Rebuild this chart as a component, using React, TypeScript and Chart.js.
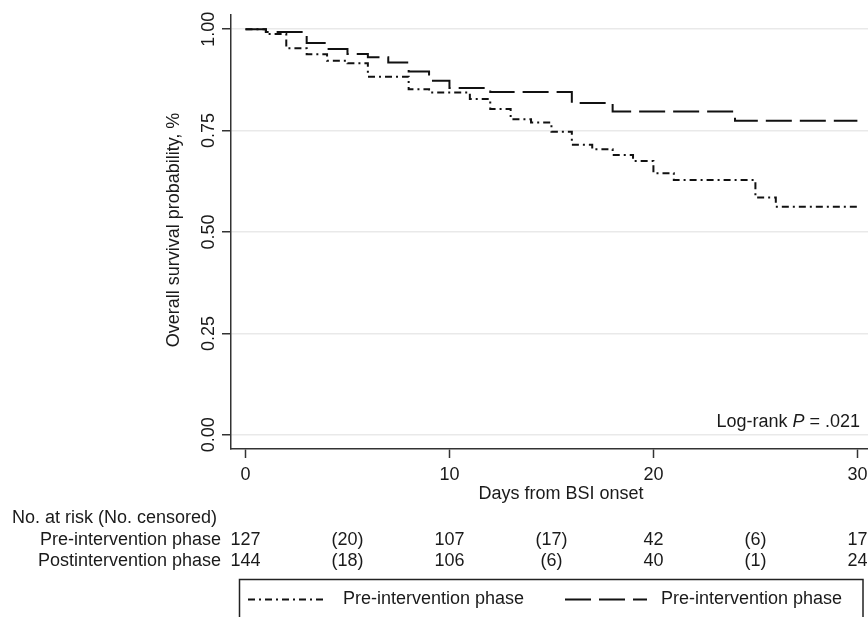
import React, { useEffect, useRef } from 'react';
import { Chart, registerables } from 'chart.js';

Chart.register(...registerables);

// Kaplan-Meier step data (day, survival after step)
const preDays = [0, 1, 2, 3, 4, 5, 6, 8, 9, 11, 12, 13, 14, 15, 16, 17, 18, 19, 20, 21, 25, 26, 30];
const preSurv = [1.0, 0.988, 0.953, 0.938, 0.922, 0.916, 0.883, 0.852, 0.844, 0.828, 0.803, 0.778, 0.770, 0.747, 0.715, 0.704, 0.690, 0.675, 0.645, 0.628, 0.585, 0.562, 0.562];

const postDays = [0, 1, 3, 4, 5, 6, 7, 8, 9, 10, 12, 16, 18, 24, 30];
const postSurv = [1.0, 0.993, 0.966, 0.951, 0.939, 0.931, 0.918, 0.896, 0.873, 0.855, 0.845, 0.818, 0.797, 0.774, 0.774];

const xTicks = [0, 10, 20, 30];
const yTicks = [0, 0.25, 0.5, 0.75, 1.0];

const riskDays = [0, 5, 10, 15, 20, 25, 30];
const preRisk = ['127', '(20)', '107', '(17)', '42', '(6)', '17'];
const postRisk = ['144', '(18)', '106', '(6)', '40', '(1)', '24'];

const riskHeader = 'No. at risk (No. censored)';
const preRowLabel = 'Pre-intervention phase';
const postRowLabel = 'Postintervention phase';
const legendLabels = ['Pre-intervention phase', 'Pre-intervention phase'];
const xTitle = 'Days from BSI onset';
const yTitle = 'Overall survival probability, %';

const FONT = '18px "Liberation Sans", Arial, Helvetica, sans-serif';
const FONT_IT = 'italic 18px "Liberation Sans", Arial, Helvetica, sans-serif';
const INK = '#1a1a1a';
const PRE_DASH = [7, 4, 2, 4];
const POST_DASH = [26, 8];

export default function App() {
  const ref = useRef<HTMLCanvasElement | null>(null);

  useEffect(() => {
    if (!ref.current) return;

    const textPlugin = {
      id: 'kmText',
      afterDraw(chart: any) {
        const ctx = chart.ctx as CanvasRenderingContext2D;
        const xs = chart.scales.x;
        const ys = chart.scales.y;
        ctx.save();
        ctx.fillStyle = INK;
        ctx.font = FONT;
        ctx.textBaseline = 'middle';

        // x tick labels
        ctx.textAlign = 'center';
        xTicks.forEach((v) => ctx.fillText(String(v), xs.getPixelForValue(v), 475));
        // x title
        ctx.fillText(xTitle, 561, 494);

        // y tick labels (rotated)
        yTicks.forEach((v) => {
          ctx.save();
          ctx.translate(209, ys.getPixelForValue(v));
          ctx.rotate(-Math.PI / 2);
          ctx.textAlign = 'center';
          ctx.fillText(v.toFixed(2), 0, 0);
          ctx.restore();
        });
        // y title
        ctx.save();
        ctx.translate(174, 230);
        ctx.rotate(-Math.PI / 2);
        ctx.textAlign = 'center';
        ctx.fillText(yTitle, 0, 0);
        ctx.restore();

        // log-rank annotation (right aligned)
        const p1 = 'Log-rank ';
        const p2 = 'P';
        const p3 = ' = .021';
        ctx.font = FONT;
        const w1 = ctx.measureText(p1).width;
        const w3 = ctx.measureText(p3).width;
        ctx.font = FONT_IT;
        const w2 = ctx.measureText(p2).width;
        let lx = 860 - (w1 + w2 + w3);
        ctx.textAlign = 'left';
        ctx.font = FONT;
        ctx.fillText(p1, lx, 422);
        lx += w1;
        ctx.font = FONT_IT;
        ctx.fillText(p2, lx, 422);
        lx += w2;
        ctx.font = FONT;
        ctx.fillText(p3, lx, 422);

        // risk table
        ctx.textAlign = 'left';
        ctx.fillText(riskHeader, 12, 518);
        ctx.textAlign = 'right';
        ctx.fillText(preRowLabel, 221, 540);
        ctx.fillText(postRowLabel, 221, 561);
        ctx.textAlign = 'center';
        riskDays.forEach((d, i) => {
          const px = xs.getPixelForValue(d);
          ctx.fillText(preRisk[i], px, 540);
          ctx.fillText(postRisk[i], px, 561);
        });

        // legend box
        ctx.strokeStyle = '#222';
        ctx.lineWidth = 1.5;
        ctx.setLineDash([]);
        ctx.strokeRect(239.5, 579.5, 623.5, 60);

        const samples = [
          { x0: 248, x1: 327, tx: 343, dash: PRE_DASH },
          { x0: 565, x1: 647, tx: 661, dash: POST_DASH },
        ];
        samples.forEach((s, i) => {
          ctx.save();
          ctx.strokeStyle = '#111';
          ctx.lineWidth = 2;
          ctx.setLineDash(s.dash);
          ctx.beginPath();
          ctx.moveTo(s.x0, 599.5);
          ctx.lineTo(s.x1, 599.5);
          ctx.stroke();
          ctx.restore();
          ctx.textAlign = 'left';
          ctx.font = FONT;
          ctx.fillText(legendLabels[i], s.tx, 599);
        });

        ctx.restore();
      },
    };

    const chart = new Chart(ref.current, {
      type: 'line',
      data: {
        datasets: [
          {
            label: legendLabels[0],
            data: preDays.map((d, i) => ({ x: d, y: preSurv[i] })),
            borderColor: '#111',
            borderWidth: 2,
            borderDash: PRE_DASH,
            stepped: true,
            pointRadius: 0,
            fill: false,
          },
          {
            label: legendLabels[1],
            data: postDays.map((d, i) => ({ x: d, y: postSurv[i] })),
            borderColor: '#111',
            borderWidth: 2,
            borderDash: POST_DASH,
            stepped: true,
            pointRadius: 0,
            fill: false,
          },
        ],
      },
      options: {
        responsive: false,
        animation: false,
        layout: { padding: { left: 0, right: 0, top: 15, bottom: 0 } },
        plugins: {
          legend: { display: false },
          tooltip: { enabled: false },
          title: { display: false },
        },
        scales: {
          x: {
            type: 'linear',
            min: -0.71,
            max: 30.52,
            afterFit: (s: any) => {
              s.height = 168;
            },
            ticks: { display: false, stepSize: 10, includeBounds: false },
            grid: {
              drawOnChartArea: false,
              drawTicks: true,
              tickLength: 9,
              tickColor: '#333',
              tickWidth: 1.5,
            },
            border: { display: true, color: '#333', width: 1.5 },
          },
          y: {
            type: 'linear',
            min: -0.035,
            max: 1.035,
            afterFit: (s: any) => {
              s.width = 231;
            },
            ticks: { display: false, stepSize: 0.25, includeBounds: false },
            grid: {
              drawOnChartArea: true,
              color: '#e9e9e9',
              lineWidth: 1.5,
              drawTicks: true,
              tickLength: 9,
              tickColor: '#333',
              tickWidth: 1.5,
            },
            border: { display: true, color: '#333', width: 1.5 },
          },
        },
      },
      plugins: [textPlugin],
    });

    return () => chart.destroy();
  }, []);

  return (
    <div style={{ position: 'fixed', left: 0, top: 0, width: 868, height: 617, background: '#fff' }}>
      <canvas ref={ref} width={868} height={617} style={{ display: 'block' }} />
    </div>
  );
}
